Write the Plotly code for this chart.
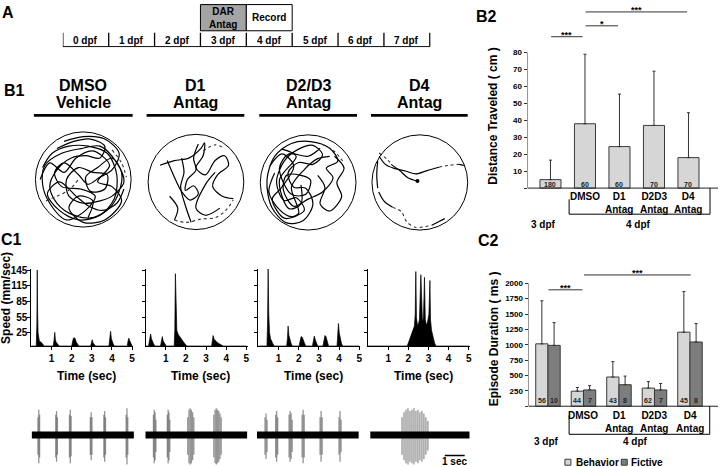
import plotly.graph_objects as go

W, H = 720, 467
FONT = "Liberation Sans, Arial, Helvetica, sans-serif"

# ============================ DATA ============================
# Panel A: experimental timeline
days = ["0 dpf", "1 dpf", "2 dpf", "3 dpf", "4 dpf", "5 dpf", "6 dpf", "7 dpf"]
treatment_day = 3
treatment_text = "DAR<br>Antag"
record_day = 4
record_text = "Record"

# Panel B1: swim tracks (arena radius = 1)
b1_title_top = ["DMSO", "D1", "D2/D3", "D4"]
b1_title_bottom = ["Vehicle", "Antag", "Antag", "Antag"]

dmso_solid = [
    [(-0.55, 0.65), (-0.2, 0.8), (0.15, 0.85), (0.45, 0.7), (0.35, 0.45), (0.05, 0.5), (-0.25, 0.45),
     (-0.55, 0.2), (-0.7, -0.15), (-0.55, -0.5), (-0.2, -0.75), (0.2, -0.8), (0.55, -0.6), (0.75, -0.25),
     (0.8, 0.15), (0.6, 0.45), (0.3, 0.25), (0.05, 0.05), (0.15, -0.25), (0.45, -0.2), (0.5, 0.1),
     (0.2, 0.15), (-0.1, 0.25), (-0.35, 0.0), (-0.3, -0.35), (0.0, -0.5), (0.35, -0.45), (0.6, -0.35),
     (0.85, -0.05), (0.7, 0.35), (0.35, 0.7), (-0.05, 0.65), (-0.45, 0.55), (-0.8, 0.3), (-0.85, -0.1),
     (-0.7, -0.5), (-0.35, -0.85), (0.05, -0.65), (0.25, -0.35), (-0.05, -0.2), (-0.45, -0.15),
     (-0.6, 0.15), (-0.4, 0.35), (-0.1, 0.1), (0.1, -0.1), (0.35, 0.05), (0.6, 0.2), (0.75, 0.55),
     (0.45, 0.85), (0.0, 0.9), (-0.4, 0.8)],
    [(-0.85, 0.25), (-0.65, 0.55), (-0.3, 0.7), (0.1, 0.7), (0.5, 0.55), (0.7, 0.1), (0.65, -0.4),
     (0.35, -0.75), (-0.1, -0.85), (-0.5, -0.65), (-0.75, -0.3), (-0.5, -0.05), (-0.15, -0.35),
     (0.1, -0.55), (0.4, -0.65), (0.7, -0.5), (0.85, -0.2)],
    [(-0.9, 0.0), (-0.7, 0.35), (-0.4, 0.15), (-0.15, 0.45), (0.2, 0.6), (0.55, 0.3), (0.3, -0.05),
     (0.6, -0.15), (0.8, -0.45), (0.45, -0.85), (0.0, -0.9), (-0.3, -0.6), (-0.1, -0.35), (0.2, -0.45),
     (0.1, -0.8)],
]
dmso_dotted = [
    [(-0.78, -0.45), (-0.55, -0.35), (-0.3, -0.22), (-0.1, 0.0)],
    [(0.6, 0.62), (0.8, 0.35), (0.9, 0.05)],
]

d1_solid = [
    [(-0.75, 0.35), (-0.45, 0.45), (-0.15, 0.5), (0.1, 0.7), (0.18, 0.82), (0.15, 0.55), (0.0, 0.3),
     (0.2, 0.15), (0.4, 0.45), (0.6, 0.55), (0.68, 0.35), (0.45, 0.15), (0.35, -0.1), (0.55, -0.3),
     (0.78, -0.35)],
    [(-0.6, 0.45), (-0.45, 0.1), (-0.3, -0.2), (-0.12, -0.38), (0.05, -0.25), (-0.05, -0.08),
     (-0.22, -0.18), (-0.18, 0.05), (0.0, 0.25), (-0.05, 0.5), (0.05, 0.8)],
    [(-0.3, 0.5), (-0.25, 0.2), (-0.32, -0.1), (-0.22, -0.5), (-0.1, -0.85)],
    [(-0.55, -0.3), (-0.38, -0.55), (-0.45, -0.8)],
    [(0.4, 0.2), (0.2, -0.05), (0.0, -0.55), (0.2, -0.7), (0.5, -0.55)],
]
d1_dotted = [
    [(-0.45, -0.8), (-0.2, -0.85), (0.1, -0.78), (0.4, -0.75), (0.62, -0.6), (0.78, -0.38)],
    [(0.15, 0.65), (0.4, 0.78), (0.6, 0.7)],
]

d23_solid = [
    [(-0.7, 0.2), (-0.82, -0.2), (-0.62, -0.55), (-0.35, -0.72), (-0.08, -0.58), (-0.25, -0.32),
     (-0.5, -0.38), (-0.66, 0.0), (-0.5, 0.45), (-0.2, 0.7), (0.1, 0.78), (0.3, 0.58), (0.1, 0.38),
     (-0.2, 0.42), (-0.42, 0.2), (-0.3, -0.1), (-0.05, -0.12), (0.1, -0.45), (-0.1, -0.8),
     (-0.45, -0.85), (-0.76, -0.52), (-0.86, 0.05), (-0.7, 0.55), (-0.35, 0.82), (0.05, 0.86),
     (0.45, 0.72), (0.62, 0.45), (0.38, 0.3), (0.52, 0.1), (0.3, -0.2), (0.0, -0.35), (-0.3, -0.5),
     (-0.52, -0.15), (-0.45, 0.15), (-0.15, 0.15), (0.05, 0.05), (-0.05, -0.25), (-0.35, -0.25),
     (-0.6, 0.3), (-0.4, 0.6), (0.0, 0.55), (0.25, 0.72)],
    [(0.2, 0.15), (0.35, -0.1), (0.25, -0.45), (0.45, -0.6), (0.7, -0.3), (0.6, 0.0), (0.75, 0.3),
     (0.55, 0.55)],
    [(-0.55, 0.7), (-0.25, 0.55), (-0.6, 0.05), (-0.4, -0.55), (-0.15, -0.45), (-0.15, -0.05)],
    [(-0.8, 0.35), (-0.55, 0.6), (-0.3, 0.35), (-0.55, -0.1), (-0.75, -0.35), (-0.5, -0.75),
     (-0.2, -0.65), (-0.35, -0.1), (-0.1, 0.25), (0.2, 0.5), (0.45, 0.55)],
]
d23_dotted = [
    [(0.3, 0.8), (0.55, 0.65), (0.72, 0.45)],
]

d4_solid = [
    [(-0.85, 0.55), (-0.72, 0.38), (-0.55, 0.3), (-0.3, 0.24), (-0.08, 0.18), (0.15, 0.25), (0.4, 0.32)],
    [(-0.6, 0.38), (-0.42, 0.25), (-0.25, 0.1), (-0.05, 0.03)],
    [(0.82, 0.38), (0.92, 0.36)],
    [(-0.88, 0.45), (-0.9, 0.15), (-0.88, -0.12)],
    [(-0.86, -0.2), (-0.74, -0.4), (-0.57, -0.52)],
    [(0.25, -0.9), (0.4, -0.82), (0.52, -0.76)],
]
d4_dotted = [
    [(0.4, 0.32), (0.6, 0.36), (0.82, 0.38)],
    [(-0.57, -0.52), (-0.38, -0.62), (-0.28, -0.82), (-0.1, -0.94), (0.1, -0.93), (0.25, -0.9)],
    [(-0.85, 0.62), (-0.7, 0.5), (-0.62, 0.42)],
]

tracks_solid = [dmso_solid, d1_solid, d23_solid, d4_solid]
tracks_dotted = [dmso_dotted, d1_dotted, d23_dotted, d4_dotted]

# Panel B2: distance travelled (cm)
b2_top_labels = ["", "DMSO", "D1", "D2D3", "D4"]
b2_bottom_labels = ["", "", "Antag", "Antag", "Antag"]
b2_mean = [5, 38, 24.5, 37, 18]
b2_err = [11.5, 41, 31, 32, 26.5]
b2_n = ["180", "60", "60", "70", "70"]
b2_sig = [(0, 1, "***"), (1, 2, "*"), (1, 4, "***")]
b2_ticks = [0, 10, 20, 30, 40, 50, 60, 70, 80]

# Panel C1: swim speed (time s, speed mm/s)
speed_dmso = [(0, 0), (0.24, 0), (0.27, 40), (0.29, 145), (0.31, 60), (0.33, 25), (0.36, 12), (0.40, 8),
              (0.46, 8), (0.52, 6), (0.58, 3), (0.62, 0), (1.08, 0), (1.12, 10), (1.16, 26), (1.19, 12),
              (1.23, 7), (1.30, 4), (1.38, 0), (2.00, 0), (2.04, 8), (2.08, 15), (2.12, 16), (2.18, 14),
              (2.22, 8), (2.28, 3), (2.35, 0), (2.94, 0), (2.98, 6), (3.02, 12), (3.06, 6), (3.12, 3),
              (3.18, 0), (3.85, 0), (3.89, 12), (3.93, 28), (3.97, 14), (4.02, 6), (4.08, 2), (4.14, 0),
              (4.76, 0), (4.80, 10), (4.84, 15), (4.88, 10), (4.93, 5), (4.98, 0), (5.0, 0)]
speed_d1 = [(0, 0), (0.15, 0), (0.20, 12), (0.25, 23), (0.29, 14), (0.34, 8), (0.40, 4), (0.46, 0),
            (0.74, 0), (0.78, 8), (0.83, 18), (0.87, 10), (0.92, 6), (0.98, 2), (1.02, 0),
            (1.42, 0), (1.45, 30), (1.48, 138), (1.51, 60), (1.55, 30), (1.62, 22), (1.70, 17),
            (1.78, 13), (1.86, 9), (1.94, 5), (2.00, 2), (2.05, 0), (3.28, 0), (3.31, 10), (3.35, 20),
            (3.40, 13), (3.48, 9), (3.58, 6), (3.68, 4), (3.78, 2), (3.85, 0), (5.0, 0)]
speed_d23 = [(0, 0), (0.42, 0), (0.45, 40), (0.48, 147), (0.51, 60), (0.55, 25), (0.60, 14), (0.66, 8),
             (0.72, 4), (0.78, 0), (1.40, 0), (1.44, 15), (1.47, 38), (1.51, 20), (1.56, 10),
             (1.62, 5), (1.68, 0), (2.02, 0), (2.07, 10), (2.12, 18), (2.17, 17), (2.22, 12),
             (2.28, 5), (2.34, 0), (2.68, 0), (2.72, 10), (2.77, 19), (2.82, 12), (2.88, 5), (2.94, 0),
             (3.20, 0), (3.25, 12), (3.30, 20), (3.35, 18), (3.41, 9), (3.48, 0), (3.90, 0),
             (3.94, 20), (3.97, 43), (4.01, 25), (4.06, 12), (4.12, 5), (4.18, 0), (5.0, 0)]
speed_d4 = [(0, 0), (1.94, 0), (2.00, 6), (2.05, 12), (2.10, 18), (2.15, 22), (2.20, 28), (2.25, 32),
            (2.30, 38), (2.34, 60), (2.37, 142), (2.40, 55), (2.45, 40), (2.50, 42), (2.55, 50),
            (2.62, 136), (2.66, 52), (2.70, 45), (2.75, 55), (2.80, 131), (2.84, 50), (2.90, 40),
            (2.95, 45), (3.02, 60), (3.07, 125), (3.10, 50), (3.15, 30), (3.20, 20), (3.25, 12),
            (3.30, 6), (3.37, 0), (5.0, 0)]
speed_traces = [speed_dmso, speed_d1, speed_d23, speed_d4]
speed_ticks_y = [25, 55, 85, 115, 145]
speed_ticks_x = [1, 2, 3, 4, 5]

# Panel C1 bottom: fictive recordings (burst line time s, relative amplitude)
ephys_dmso = [(0.31, 0.7), (0.35, 1.0), (0.39, 0.8), (1.18, 0.8), (1.22, 0.95), (1.26, 0.7),
              (1.85, 0.8), (1.89, 1.0), (1.93, 0.75), (2.87, 0.7), (2.91, 0.9), (2.95, 0.7),
              (3.53, 0.8), (3.57, 0.95), (3.61, 0.7), (4.62, 0.8), (4.66, 1.05), (4.70, 0.7)]
ephys_d1 = [(0.40, 0.8), (0.44, 1.0), (0.48, 0.9), (0.52, 0.6), (1.08, 0.8), (1.12, 1.0), (1.16, 0.9),
            (1.20, 0.6), (2.08, 0.7), (2.14, 1.0), (2.20, 1.05), (2.26, 1.0), (2.32, 0.9), (2.38, 0.7),
            (3.36, 0.8), (3.42, 1.0), (3.48, 1.05), (3.54, 1.0), (3.60, 0.95), (3.66, 0.85), (3.72, 0.7)]
ephys_d23 = [(0.40, 0.7), (0.45, 0.85), (0.50, 0.6), (0.92, 0.8), (0.97, 0.95), (1.02, 0.7),
             (1.58, 0.8), (1.63, 0.95), (1.68, 0.85), (1.73, 0.6), (2.22, 0.8), (2.27, 1.0), (2.32, 0.8),
             (3.10, 0.7), (3.15, 0.95), (3.20, 0.7), (4.03, 0.7), (4.08, 0.95), (4.13, 0.6)]
ephys_d4 = [(1.60, 0.7), (1.70, 0.9), (1.80, 1.0), (1.90, 1.05), (2.00, 0.95), (2.10, 1.0), (2.20, 1.05),
            (2.30, 0.95), (2.40, 1.0), (2.50, 0.9), (2.60, 0.95), (2.70, 0.85), (2.80, 0.7), (2.90, 0.55)]
ephys_traces = [ephys_dmso, ephys_d1, ephys_d23, ephys_d4]
ephys_duration = 5
scale_bar_sec = 1

# Panel C2: episode duration (ms)
c2_top_labels = ["", "DMSO", "D1", "D2D3", "D4"]
c2_bottom_labels = ["", "", "Antag", "Antag", "Antag"]
c2_beh_mean = [1015, 245, 475, 295, 1205]
c2_beh_err = [700, 60, 250, 105, 660]
c2_fic_mean = [990, 265, 350, 265, 1045]
c2_fic_err = [370, 70, 140, 105, 300]
c2_beh_n = ["56", "44", "43", "62", "45"]
c2_fic_n = ["10", "7", "8", "7", "8"]
c2_sig = [(0, 1, "***"), (1, 4, "***")]
c2_ticks = [0, 250, 500, 750, 1000, 1250, 1500, 1750, 2000]
series_names = ["Behavior", "Fictive"]

# ============================ LAYOUT HELPERS ============================
LIGHT = "#d6d6d6"
DARK = "#7d7d7d"
EDGE = "#3a3a3a"

fig = go.Figure()
layout = dict(width=W, height=H, margin=dict(l=0, r=0, t=0, b=0, pad=0),
              paper_bgcolor="white", plot_bgcolor="rgba(0,0,0,0)", showlegend=False,
              font=dict(family=FONT, color="black"))
shapes, annotations = [], []


def refs(k):
    return ("x" if k == 1 else f"x{k}"), ("y" if k == 1 else f"y{k}")


def clamp(v):
    return max(0.0, min(1.0, v))


def set_axes(k, xpx, ypx, xr, yr, xo=None, yo=None):
    xn, yn = refs(k)
    base = dict(showgrid=False, zeroline=False, visible=False, fixedrange=True)
    xa = dict(base, domain=[clamp(xpx[0] / W), clamp(xpx[1] / W)], range=xr, anchor=yn)
    ya = dict(base, domain=[clamp(1 - ypx[1] / H), clamp(1 - ypx[0] / H)], range=yr, anchor=xn)
    if xo:
        xa.update(xo)
    if yo:
        ya.update(yo)
    layout["xaxis" + ("" if k == 1 else str(k))] = xa
    layout["yaxis" + ("" if k == 1 else str(k))] = ya


def pann(xp, yp, text, size, bold=True, **kw):
    d = dict(x=xp / W, y=1 - yp / H, xref="paper", yref="paper", showarrow=False,
             xanchor="center", yanchor="middle",
             text=(f"<b>{text}</b>" if bold else text),
             font=dict(family=FONT, size=size, color="black"))
    d.update(kw)
    annotations.append(d)


def dann(x, y, xr_, yr_, text, size, color="black", **kw):
    d = dict(x=x, y=y, xref=xr_, yref=yr_, showarrow=False, xanchor="center", yanchor="middle",
             text=f"<b>{text}</b>", font=dict(family=FONT, size=size, color=color))
    d.update(kw)
    annotations.append(d)


def pline(x0, y0, x1, y1, width=1, color="black"):
    shapes.append(dict(type="line", xref="paper", yref="paper", x0=x0 / W, x1=x1 / W,
                       y0=1 - y0 / H, y1=1 - y1 / H, line=dict(color=color, width=width)))


TICKFONT = dict(family=FONT, size=8, color="black", weight="bold")

# ============================ PANEL A ============================
kA = 1
A_x0, A_step = 63, 46
set_axes(kA, (A_x0, A_x0 + 8.02 * A_step), (0, 44), [0, 8.02], [0, 1])
xa_, ya_ = refs(kA)


def av(py):  # pixel row -> panel A y value
    return (44 - py) / 44


for day, fill, txt in [(treatment_day, "#a4a4a4", treatment_text), (record_day, "white", record_text)]:
    shapes.append(dict(type="rect", xref=xa_, yref=ya_, x0=day, x1=day + 1, y0=av(27), y1=av(0.6),
                       fillcolor=fill, line=dict(color="black", width=1), layer="below"))
    dann(day + 0.5, av(14), xa_, ya_, txt, 10)
for k in range(len(days) + 1):
    shapes.append(dict(type="line", xref=xa_, yref=ya_, x0=k, x1=k, y0=av(29), y1=av(43),
                       line=dict(color="black", width=1.3)))
shapes.append(dict(type="line", xref=xa_, yref=ya_, x0=0, x1=len(days), y0=av(43), y1=av(43),
                   line=dict(color="black", width=1)))
for k, d in enumerate(days):
    dann(k + 0.5, av(36.5), xa_, ya_, d, 10)
pann(8, 9, "A", 16)

# ============================ PANEL B1 ============================
circle_centers = [(83.5, 177), (196.5, 179.5), (309, 180), (421, 180)]
underlines = [(34, 133), (147, 245), (260, 358), (372, 469)]
R_PX = 48
for i in range(4):
    k = 2 + i
    cx, cy = circle_centers[i]
    half = R_PX * 1.05
    set_axes(k, (cx - half, cx + half), (cy - half, cy + half), [-1.05, 1.05], [-1.05, 1.05])
    xn, yn = refs(k)
    shapes.append(dict(type="circle", xref=xn, yref=yn, x0=-1, x1=1, y0=-1, y1=1,
                       line=dict(color="black", width=1)))
    for path in tracks_solid[i]:
        fig.add_trace(go.Scatter(x=[p[0] for p in path], y=[p[1] for p in path], mode="lines",
                                 line=dict(color="black", width=1.2, shape="spline", smoothing=0.9),
                                 xaxis=xn, yaxis=yn, hoverinfo="skip"))
    for path in tracks_dotted[i]:
        fig.add_trace(go.Scatter(x=[p[0] for p in path], y=[p[1] for p in path], mode="lines",
                                 line=dict(color="#333", width=1.1, dash="dot", shape="spline", smoothing=0.9),
                                 xaxis=xn, yaxis=yn, hoverinfo="skip"))
    if i == 3:
        end = tracks_solid[i][1][-1]
        fig.add_trace(go.Scatter(x=[end[0]], y=[end[1]], mode="markers",
                                 marker=dict(color="black", size=4), xaxis=xn, yaxis=yn, hoverinfo="skip"))
    ux0, ux1 = underlines[i]
    pline(ux0, 112.3, ux1, 112.3, width=2.6)
    pann(cx, 82, b1_title_top[i], 16)
    pann(cx, 99.5, b1_title_bottom[i], 16)
pann(14.5, 87.5, "B1", 16)

# ============================ PANEL B2 ============================
kB = 6
B_c0, B_step = 552.0, 34.6          # x pixel of group 0, pixel per group
B_y0, B_scale = 185.7, 136.7 / 80   # y pixel of 0, pixel per cm
b_xr = [(529 - B_c0) / B_step, (720 - B_c0) / B_step]
b_yr = [-30, 108]
set_axes(kB, (529, 720), (B_y0 - b_yr[1] * B_scale, B_y0 - b_yr[0] * B_scale), b_xr, b_yr,
         yo=dict(visible=True, showline=False, tickvals=b2_ticks,
                 ticktext=["" if t == 0 else str(t) for t in b2_ticks], ticks="outside", ticklen=3,
                 tickwidth=1, tickcolor="#333", tickfont=TICKFONT))
xb, yb = refs(kB)
xs = list(range(len(b2_mean)))
fig.add_trace(go.Bar(x=xs, y=b2_mean, width=0.61, marker=dict(color=LIGHT, line=dict(color=EDGE, width=1)),
                     error_y=dict(type="data", symmetric=False, array=b2_err, arrayminus=[0] * len(xs),
                                  color="#333", thickness=1, width=1.5),
                     xaxis=xb, yaxis=yb, hoverinfo="skip"))
shapes.append(dict(type="line", xref=xb, yref=yb, x0=b_xr[0], x1=b_xr[1], y0=0, y1=0,
                   line=dict(color="#222", width=1)))
shapes.append(dict(type="line", xref=xb, yref=yb, x0=b_xr[0], x1=b_xr[0], y0=0, y1=80,
                   line=dict(color="#222", width=1)))
bv = lambda py: (B_y0 - py) / B_scale
bx = lambda px: (px - B_c0) / B_step
for i, n in enumerate(b2_n):
    dann(i, bv(182.2), xb, yb, n, 7, color="#222")
for i in range(1, 5):
    txt = b2_top_labels[i] + (f"</b><br><b>{b2_bottom_labels[i]}" if b2_bottom_labels[i] else "")
    dann(i, bv(187), xb, yb, txt, 10, yanchor="top")
shapes += [
    dict(type="line", xref=xb, yref=yb, x0=bx(570.7), x1=bx(570.7), y0=bv(197), y1=bv(212), line=dict(color="black", width=1)),
    dict(type="line", xref=xb, yref=yb, x0=bx(570.7), x1=bx(712), y0=bv(212), y1=bv(212), line=dict(color="black", width=1)),
    dict(type="line", xref=xb, yref=yb, x0=bx(712), x1=bx(712), y0=0, y1=bv(212), line=dict(color="black", width=1)),
]
dann(bx(545), bv(222), xb, yb, "3 dpf", 10)
dann(bx(640), bv(222), xb, yb, "4 dpf", 10)
b_levels = [33, 22, 8]
for (a, b, s), lev in zip(b2_sig, b_levels):
    x0 = a + 0.02
    x1 = b - 0.07 if a == 0 else b - 0.04
    shapes.append(dict(type="line", xref=xb, yref=yb, x0=x0, x1=x1, y0=bv(lev), y1=bv(lev),
                       line=dict(color="#333", width=1)))
    dann((x0 + x1) / 2, bv(lev - 1.5), xb, yb, s, 9)
pann(487.5, 12.5, "B2", 16)
pann(494, 113, "Distance Traveled ( cm )", 12, textangle=-90)

# ============================ PANEL C1 ============================
speed_x0 = [31.5, 146, 259.2, 369.1]
SP_STEP = 20.2
SP_Y0, SP_SCALE = 345.0, 76.7 / 145
sp_xr = [0, 5.06]
sp_yr = [0, 147]
time_label_x = [87, 201, 314, 425]
for i in range(4):
    k = 7 + i
    x0 = speed_x0[i]
    set_axes(k, (x0, x0 + sp_xr[1] * SP_STEP), (SP_Y0 - sp_yr[1] * SP_SCALE, SP_Y0), sp_xr, sp_yr,
             xo=dict(visible=True, showline=True, linecolor="black", linewidth=1, tickvals=speed_ticks_x,
                     ticks="outside", ticklen=3, tickcolor="black", tickfont=dict(TICKFONT, size=10)),
             yo=dict(visible=True, showline=True, linecolor="black", linewidth=1, tickvals=speed_ticks_y,
                     ticks="outside", ticklen=3, tickcolor="black", showticklabels=(i == 0),
                     ticklabelstandoff=-2, tickfont=dict(TICKFONT, size=10)))
    xn, yn = refs(k)
    tr = speed_traces[i]
    fig.add_trace(go.Scatter(x=[p[0] for p in tr], y=[p[1] for p in tr], mode="lines", fill="tozeroy",
                             fillcolor="black", line=dict(color="black", width=0.7),
                             xaxis=xn, yaxis=yn, hoverinfo="skip", cliponaxis=False))
    pann(time_label_x[i], 375.7, "Time (sec)", 12)
pann(6.5, 296, "Speed (mm/sec)", 12, textangle=-90)
pann(11.5, 238, "C1", 16)

# fictive traces
ephys_x = [(31.7, 134.3), (145.7, 248), (257.6, 359.8), (371.2, 471)]
EP_Y0, EP_SCALE = 434.8, 27.0
ep_yr = [-(467 - EP_Y0) / EP_SCALE, (EP_Y0 - 400) / EP_SCALE]
for i in range(4):
    k = 11 + i
    set_axes(k, ephys_x[i], (400, 467), [0, ephys_duration], ep_yr)
    xn, yn = refs(k)
    bx_, by_ = [], []
    for t, a in ephys_traces[i]:
        bx_ += [t, t, None]
        by_ += [-a * 1.05, a * 0.95, None]
    fig.add_trace(go.Scatter(x=bx_, y=by_, mode="lines", line=dict(color="rgba(90,90,90,0.65)", width=1.3),
                             xaxis=xn, yaxis=yn, hoverinfo="skip"))
    fig.add_trace(go.Scatter(x=[0, ephys_duration], y=[0, 0], mode="lines",
                             line=dict(color="black", width=7), xaxis=xn, yaxis=yn, hoverinfo="skip"))
    if i == 3:
        t0 = (446 - ephys_x[3][0]) / ((ephys_x[3][1] - ephys_x[3][0]) / ephys_duration)
        yv = (EP_Y0 - 455.4) / EP_SCALE
        shapes.append(dict(type="line", xref=xn, yref=yn, x0=t0, x1=t0 + scale_bar_sec, y0=yv, y1=yv,
                           line=dict(color="black", width=1.6)))
        dann(t0 + scale_bar_sec / 2, (EP_Y0 - 461.5) / EP_SCALE, xn, yn, f"{scale_bar_sec} sec", 10)

# ============================ PANEL C2 ============================
kC = 15
C_c0, C_step = 549.5, 35.6
C_y0, C_scale = 405.7, 124.0 / 2000
c_xr = [(530 - C_c0) / C_step, (720 - C_c0) / C_step]
c_yr = [-980, 2300]
set_axes(kC, (530, 720), (C_y0 - c_yr[1] * C_scale, C_y0 - c_yr[0] * C_scale), c_xr, c_yr,
         yo=dict(visible=True, showline=False, tickvals=c2_ticks,
                 ticktext=["" if t == 0 else str(t) for t in c2_ticks], ticks="outside", ticklen=3,
                 tickwidth=1, tickcolor="#333", tickfont=TICKFONT))
xc, yc = refs(kC)
cxv = lambda px: (px - C_c0) / C_step
cyv = lambda py: (C_y0 - py) / C_scale
off = 0.1725
xs = list(range(len(c2_beh_mean)))
for vals, errs, col, sh in [(c2_beh_mean, c2_beh_err, LIGHT, -off), (c2_fic_mean, c2_fic_err, DARK, off)]:
    fig.add_trace(go.Bar(x=[i + sh for i in xs], y=vals, width=0.345,
                         marker=dict(color=col, line=dict(color=EDGE, width=1)),
                         error_y=dict(type="data", symmetric=False, array=errs, arrayminus=[0] * len(xs),
                                      color="#333", thickness=1, width=1.5),
                         xaxis=xc, yaxis=yc, hoverinfo="skip"))
shapes.append(dict(type="line", xref=xc, yref=yc, x0=c_xr[0], x1=c_xr[1], y0=0, y1=0,
                   line=dict(color="#222", width=1)))
shapes.append(dict(type="line", xref=xc, yref=yc, x0=c_xr[0], x1=c_xr[0], y0=0, y1=2000,
                   line=dict(color="#222", width=1)))
for i in xs:
    for sh, n in [(-off, c2_beh_n[i]), (off, c2_fic_n[i])]:
        dann(i + sh, cyv(400.2), xc, yc, n, 7, color="#222")
for i in range(1, 5):
    txt = c2_top_labels[i] + (f"</b><br><b>{c2_bottom_labels[i]}" if c2_bottom_labels[i] else "")
    dann(i, cyv(407), xc, yc, txt, 10, yanchor="top")
shapes += [
    dict(type="line", xref=xc, yref=yc, x0=cxv(570.7), x1=cxv(570.7), y0=cyv(415), y1=cyv(434), line=dict(color="black", width=1)),
    dict(type="line", xref=xc, yref=yc, x0=cxv(570.7), x1=cxv(711.7), y0=cyv(434), y1=cyv(434), line=dict(color="black", width=1)),
    dict(type="line", xref=xc, yref=yc, x0=cxv(711.7), x1=cxv(711.7), y0=0, y1=cyv(434), line=dict(color="black", width=1)),
]
dann(cxv(548), cyv(441.7), xc, yc, "3 dpf", 10)
dann(cxv(637), cyv(441.7), xc, yc, "4 dpf", 10)
c_levels = [288.3, 273.3]
for (a, b, s), lev in zip(c2_sig, c_levels):
    x0 = a + 0.015
    x1 = b - 0.03 if a == 0 else b + 0.02
    shapes.append(dict(type="line", xref=xc, yref=yc, x0=x0, x1=x1, y0=cyv(lev), y1=cyv(lev),
                       line=dict(color="#333", width=1)))
    dann((x0 + x1) / 2, cyv(lev - 1.5), xc, yc, s, 9)
# legend
for (sx, tx), name, col in zip([(569.5, 576), (626, 631)], series_names, [LIGHT, DARK]):
    shapes.append(dict(type="rect", xref="paper", yref="paper", x0=(sx - 3) / W, x1=(sx + 3) / W,
                       y0=1 - 465.2 / H, y1=1 - 459.2 / H, fillcolor=col, line=dict(color=EDGE, width=1)))
    pann(tx, 462.2, name, 10, xanchor="left")
pann(490, 238.5, "C2", 16)
pann(495, 337.5, "Episode Duration ( ms )", 12, textangle=-90)

layout["shapes"] = shapes
layout["annotations"] = annotations
fig.update_layout(**layout)
fig.write_html("out.html", config={"displayModeBar": False, "staticPlot": True},
               post_script="document.body.style.margin='0px';document.body.style.overflow='hidden';")
